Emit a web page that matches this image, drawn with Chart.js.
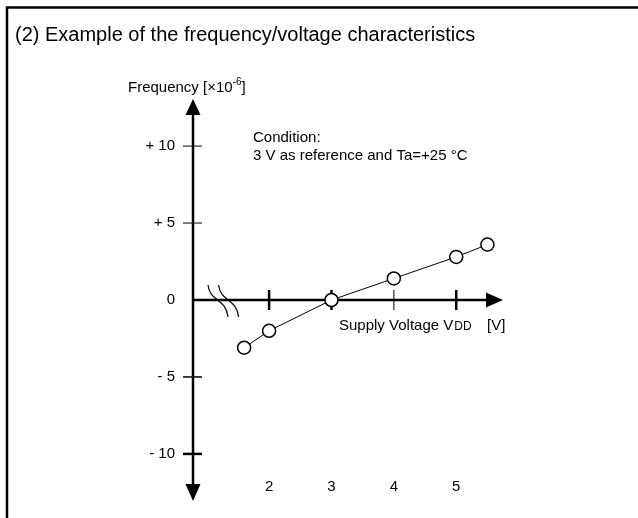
<!DOCTYPE html>
<html>
<head>
<meta charset="utf-8">
<script src="https://cdn.jsdelivr.net/npm/chart.js@4.4.1/dist/chart.umd.min.js"></script>
<style>
  html, body { margin: 0; padding: 0; background: #fff; }
  #wrap { width: 638px; height: 518px; }
</style>
</head>
<body>
<div id="wrap"><canvas id="fvChart" width="638" height="518"></canvas></div>
<script>
// data
const voltage = [1.6, 2, 3, 4, 5, 5.5];
const frequencyDev = [-3.1, -2.0, 0, 1.4, 2.8, 3.6];
const xTicks = [2, 3, 4, 5];
const yTicks = [-10, -5, 0, 5, 10];
const yTickLabels = ['- 10', '- 5', '0', '+ 5', '+ 10'];
const xRange = [0.78, 5.75];
const yRange = [-11.5, 11.5];
const breakMarks = [1.02, 1.19]; // axis break "≈" between 0 and 2 V

const FONT = 'Arial, "Liberation Sans", Helvetica, sans-serif';

// hand drawn look of the axes: arrows, crossing ticks, break marks, labels
const axesPlugin = {
  id: 'axes',
  beforeDatasetsDraw(chart) {
    const { ctx, scales: { x, y } } = chart;
    const ax = x.getPixelForValue(xRange[0]);
    const ay = y.getPixelForValue(0);
    ctx.save();
    ctx.strokeStyle = '#000';
    ctx.fillStyle = '#000';

    // frame (top + left only)
    ctx.lineWidth = 2.5;
    ctx.beginPath();
    ctx.moveTo(7, 518); ctx.lineTo(7, 7.5); ctx.lineTo(638, 7.5);
    ctx.stroke();

    // vertical axis with arrows both ends
    ctx.beginPath();
    ctx.moveTo(ax, y.top - 9); ctx.lineTo(ax, y.bottom + 8);
    ctx.stroke();
    ctx.beginPath();
    ctx.moveTo(ax, y.top - 24); ctx.lineTo(ax + 7.5, y.top - 8); ctx.lineTo(ax - 7.5, y.top - 8);
    ctx.closePath(); ctx.fill();
    ctx.beginPath();
    ctx.moveTo(ax, y.bottom + 24); ctx.lineTo(ax + 7.5, y.bottom + 7); ctx.lineTo(ax - 7.5, y.bottom + 7);
    ctx.closePath(); ctx.fill();

    // horizontal axis with arrow
    ctx.beginPath();
    ctx.moveTo(ax, ay); ctx.lineTo(x.right - 16, ay);
    ctx.stroke();
    ctx.beginPath();
    ctx.moveTo(x.right, ay); ctx.lineTo(x.right - 17, ay - 7.5); ctx.lineTo(x.right - 17, ay + 7.5);
    ctx.closePath(); ctx.fill();

    // ticks crossing the axes
    const yw = { '-10': 2.5, '-5': 1.5, '0': 0, '5': 1, '10': 1 };
    yTicks.forEach(v => {
      if (!yw[v]) return;
      const py = y.getPixelForValue(v);
      ctx.lineWidth = yw[v];
      ctx.beginPath(); ctx.moveTo(ax - 10, py); ctx.lineTo(ax + 9, py); ctx.stroke();
    });
    xTicks.forEach(v => {
      const px = x.getPixelForValue(v);
      ctx.lineWidth = v === 4 ? 1 : 2.5;
      ctx.beginPath(); ctx.moveTo(px, ay - 10); ctx.lineTo(px, ay + 10); ctx.stroke();
    });

    // break marks
    ctx.lineWidth = 1.2;
    breakMarks.forEach(v => {
      const px = x.getPixelForValue(v);
      ctx.beginPath();
      ctx.moveTo(px, ay - 15);
      ctx.bezierCurveTo(px + 2, ay + 2, px + 18, ay - 2, px + 20, ay + 17);
      ctx.stroke();
    });
    ctx.restore();
  },
  afterDraw(chart) {
    const { ctx } = chart;
    ctx.save();
    ctx.fillStyle = '#000';
    ctx.textBaseline = 'alphabetic';
    ctx.textAlign = 'left';

    ctx.font = '20px ' + FONT;
    ctx.fillText('(2) Example of the frequency/voltage characteristics', 15, 41);

    // y axis title with superscript
    ctx.font = '15px ' + FONT;
    let tx = 128;
    ctx.fillText('Frequency [\u00d710', tx, 92);
    tx += ctx.measureText('Frequency [\u00d710').width;
    ctx.font = '10px ' + FONT;
    ctx.fillText('-6', tx, 85);
    tx += ctx.measureText('-6').width;
    ctx.font = '15px ' + FONT;
    ctx.fillText(']', tx, 92);

    ctx.fillText('Condition:', 253, 142);
    ctx.fillText('3 V as reference and Ta=+25 \u00b0C', 253, 160);

    // x axis title, "DD" in small caps
    ctx.fillText('Supply Voltage V', 339, 330);
    tx = 339 + ctx.measureText('Supply Voltage V').width + 1;
    ctx.font = '12px ' + FONT;
    ctx.fillText('DD', tx, 330);
    ctx.font = '15px ' + FONT;
    ctx.fillText('[V]', 487, 330);
    ctx.restore();
  }
};

new Chart(document.getElementById('fvChart'), {
  type: 'scatter',
  data: {
    datasets: [{
      data: voltage.map((v, i) => ({ x: v, y: frequencyDev[i] })),
      showLine: true,
      borderColor: '#000',
      borderWidth: 1,
      pointRadius: 6.5,
      pointBackgroundColor: '#fff',
      pointBorderColor: '#000',
      pointBorderWidth: 1.5,
      clip: false
    }]
  },
  options: {
    responsive: false,
    animation: false,
    layout: { padding: { top: 123, right: 135, bottom: 0, left: 0 } },
    plugins: { legend: { display: false }, tooltip: { enabled: false } },
    scales: {
      x: {
        type: 'linear',
        min: xRange[0], max: xRange[1],
        grid: { display: false, drawTicks: false },
        border: { display: false },
        afterBuildTicks: s => { s.ticks = xTicks.map(v => ({ value: v })); },
        afterFit: s => { s.height = 41; },
        ticks: { color: '#000', font: { family: FONT, size: 15 }, padding: 1, maxRotation: 0 }
      },
      y: {
        type: 'linear',
        min: yRange[0], max: yRange[1],
        grid: { display: false, drawTicks: false },
        border: { display: false },
        afterBuildTicks: s => { s.ticks = yTicks.map(v => ({ value: v })); },
        afterFit: s => { s.width = 193; },
        ticks: {
          color: '#000', font: { family: FONT, size: 15 }, padding: 18,
          callback: v => yTickLabels[yTicks.indexOf(v)]
        }
      }
    }
  },
  plugins: [axesPlugin]
});
</script>
</body>
</html>
